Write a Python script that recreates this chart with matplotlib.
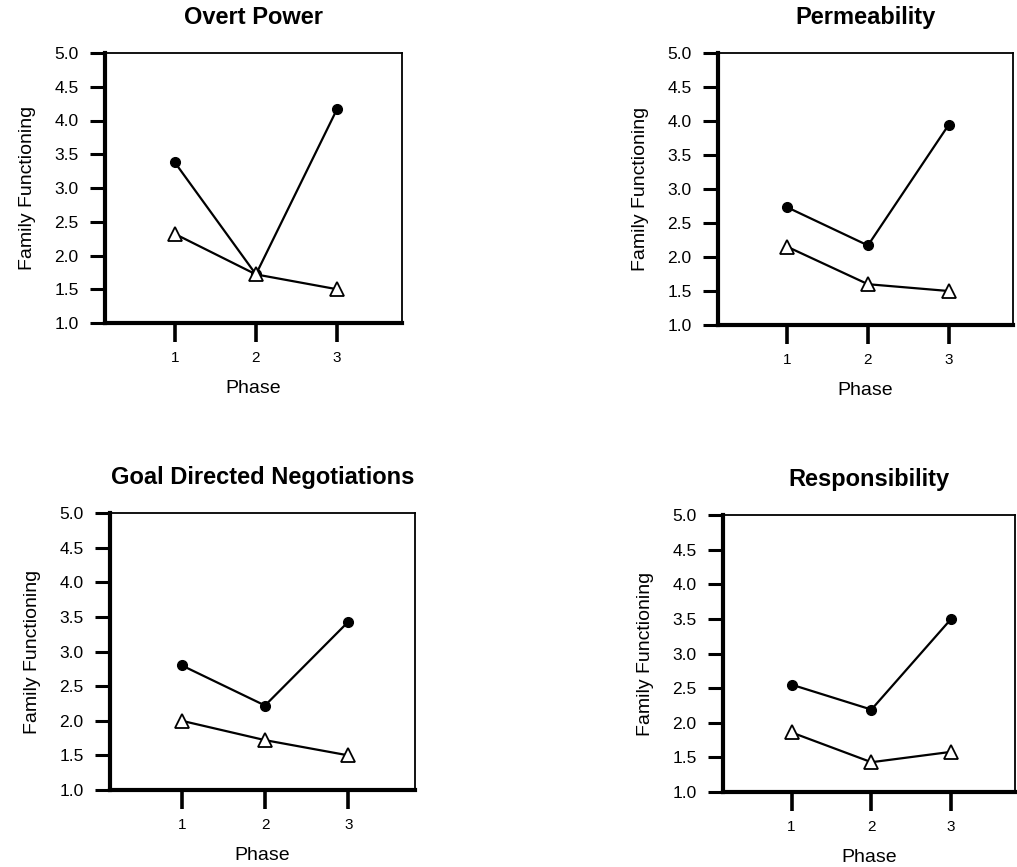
import matplotlib

matplotlib.use("Agg")  # headless
import matplotlib.pyplot as plt

plt.rcParams["font.family"] = ["Liberation Sans", "DejaVu Sans"]

PHASES = [1, 2, 3]
TITLES = ["Overt Power", "Permeability", "Goal Directed Negotiations", "Responsibility"]

# filled-circle series, one list per panel
overt_circle = [3.38, 1.72, 4.17]
perm_circle = [2.73, 2.17, 3.94]
goal_circle = [2.80, 2.22, 3.43]
resp_circle = [2.55, 2.19, 3.50]

# open-triangle series
overt_tri = [2.32, 1.72, 1.50]
perm_tri = [2.15, 1.60, 1.50]
goal_tri = [2.00, 1.72, 1.50]
resp_tri = [1.86, 1.43, 1.58]

YTICKS = [1.0, 1.5, 2.0, 2.5, 3.0, 3.5, 4.0, 4.5, 5.0]

W, H = 1017, 867
# axes boxes in pixels: left, top, right, bottom
BOXES = [(105, 53, 402, 323), (718, 53, 1013, 325),
         (110, 513, 415, 790), (723, 515, 1015, 792)]


def panel(fig, box, title, circ, tri):
    l, t, r, b = box
    ax = fig.add_axes([l / W, (H - b) / H, (r - l) / W, (b - t) / H])
    ax.plot(PHASES, circ, "-o", color="black", lw=1.6, markersize=7, zorder=3)
    ax.plot(PHASES, tri, "-^", color="black", lw=1.6, markersize=10,
            mfc="white", mec="black", mew=1.3, zorder=4)
    ax.set_xlim(0.14, 3.8)
    ax.set_ylim(1.0, 5.0)
    ax.set_xticks(PHASES)
    ax.set_xticklabels([str(p) for p in PHASES], fontsize=11)
    ax.set_yticks(YTICKS)
    ax.set_yticklabels([f"{v:.1f}" for v in YTICKS], fontsize=12.5)
    ax.spines["left"].set_linewidth(3.0)
    ax.spines["bottom"].set_linewidth(3.0)
    ax.spines["top"].set_linewidth(1.3)
    ax.spines["right"].set_linewidth(1.3)
    ax.tick_params(axis="y", length=11, width=2.2, pad=8)
    ax.tick_params(axis="x", length=14, width=2.6, pad=6)
    ax.set_ylabel("Family Functioning", fontsize=14, labelpad=13)
    ax.set_xlabel("Phase", fontsize=14, labelpad=11)
    ax.set_title(title, fontsize=17, fontweight="bold", pad=21)


def main() -> None:
    fig = plt.figure(figsize=(W / 100, H / 100), dpi=100)
    circles = [overt_circle, perm_circle, goal_circle, resp_circle]
    tris = [overt_tri, perm_tri, goal_tri, resp_tri]
    for box, title, c, t in zip(BOXES, TITLES, circles, tris):
        panel(fig, box, title, c, t)
    fig.savefig("out.png", dpi=100)
    plt.close(fig)


if __name__ == "__main__":
    main()
